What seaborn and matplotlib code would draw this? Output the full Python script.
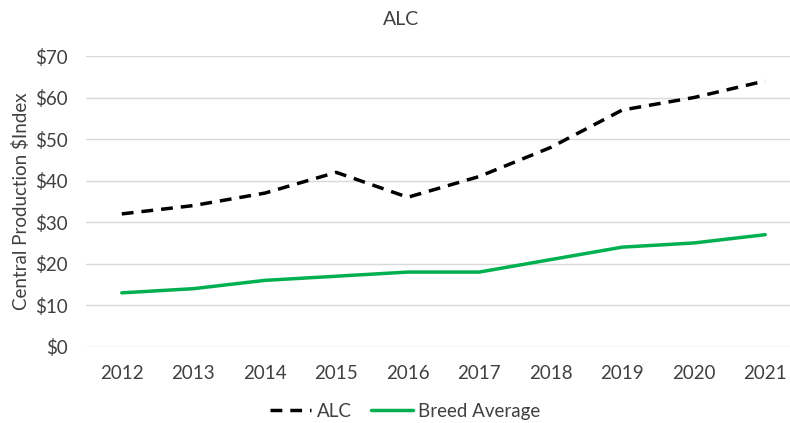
import matplotlib
matplotlib.use("Agg")
import matplotlib.pyplot as plt
import seaborn as sns
import pandas as pd
from matplotlib.ticker import FuncFormatter, MultipleLocator
from matplotlib.lines import Line2D

# --------- Data ---------
years = [2012, 2013, 2014, 2015, 2016, 2017, 2018, 2019, 2020, 2021]
alc = [32, 34, 37, 42, 36, 41, 48, 57, 60, 64]
breed_avg = [13, 14, 16, 17, 18, 18, 21, 24, 25, 27]

df = pd.DataFrame({"year": years, "ALC": alc, "Breed Average": breed_avg})
long_df = df.melt(id_vars="year", var_name="series", value_name="value")

# --------- Style ---------
sns.set_style("white")
plt.rcParams["font.family"] = ["Lato", "DejaVu Sans"]
TXT = "#404040"
GREEN = "#00b050"
LW = 2.5
DASH = (3.4, 2.3)

fig = plt.figure(figsize=(7.9, 4.23), dpi=100)
ax = fig.add_axes([0.1089, 0.180, 0.905, 0.6876])

sns.lineplot(data=long_df, x="year", y="value", hue="series", style="series",
             palette={"ALC": "black", "Breed Average": GREEN},
             dashes={"ALC": DASH, "Breed Average": ""},
             linewidth=LW, ax=ax, legend=False)

ax.set_xlim(2011.5, 2021.5)
ax.set_ylim(0, 70)
ax.yaxis.set_major_locator(MultipleLocator(10))
ax.yaxis.set_major_formatter(FuncFormatter(lambda v, p: f"${v:.0f}"))
ax.set_xticks(years)
ax.grid(axis="y", color="#d9d9d9", linewidth=1)
ax.set_axisbelow(True)
for s in ax.spines.values():
    s.set_visible(False)
ax.tick_params(axis="y", length=0, labelsize=13.5, labelcolor=TXT, pad=13)
ax.tick_params(axis="x", length=0, labelsize=13.5, labelcolor=TXT, pad=13)
ax.set_xlabel("")
ax.set_ylabel("Central Production $Index", fontsize=13.5, color=TXT, labelpad=4)
fig.text(0.508, 0.955, "ALC", ha="center", va="center", fontsize=14, color=TXT)

# legend
handles = [Line2D([], [], color="black", linewidth=LW, dashes=DASH),
           Line2D([], [], color=GREEN, linewidth=LW)]
fig.legend(handles, ["ALC", "Breed Average"], loc="center", bbox_to_anchor=(0.513, 0.028),
           ncol=2, frameon=False, fontsize=13.5, labelcolor=TXT,
           handlelength=2.2, handletextpad=0.3, columnspacing=1.05)

fig.savefig("out.png", dpi=100)
